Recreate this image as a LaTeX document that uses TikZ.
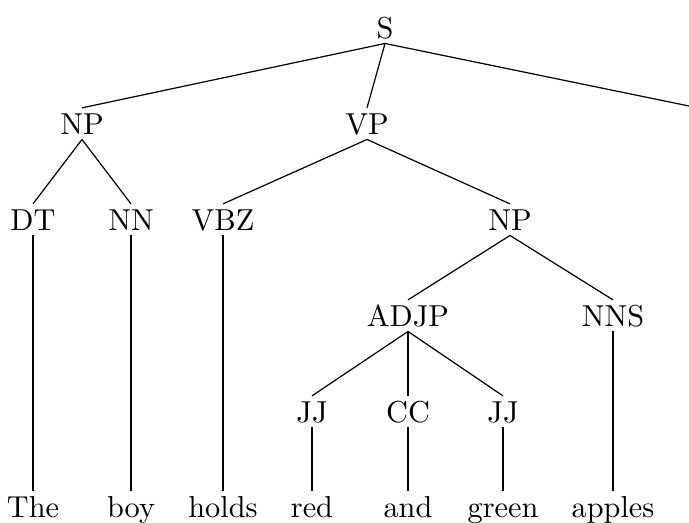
\documentclass[tikz,border=0pt]{standalone}
\usetikzlibrary{positioning}

\tikzset{
  tag/.style={inner sep=1.6pt, text height=6.83pt, text depth=0pt, anchor=base},
}

\begin{document}
\begin{tikzpicture}[x=0.33pt,y=-0.33pt]
        \useasboundingbox (0,0) rectangle (689,522);
        % phrase labels
        \node[tag] (S) at (385,38) {S};
        \node[tag] (NP1) at (82,134) {NP};
        \node[tag] (VP) at (367,134) {VP};
        \coordinate (rest) at (689,106);
        \node[tag] (DT) at (33,230) {DT};
        \node[tag] (NN) at (131,230) {NN};
        \node[tag] (VBZ) at (223,230) {VBZ};
        \node[tag] (NP2) at (510,230) {NP};
        \node[tag] (ADJP) at (408,326) {ADJP};
        \node[tag] (NNS) at (613,326) {NNS};
        \node[tag] (JJ1) at (312,422) {JJ};
        \node[tag] (CC) at (408,422) {CC};
        \node[tag] (JJ2) at (503,422) {JJ};
        % words
        \node[tag] (w_the) at (33,517) {The};
        \node[tag] (w_boy) at (131,517) {boy};
        \node[tag] (w_holds) at (223,517) {holds};
        \node[tag] (w_red) at (312,517) {red};
        \node[tag] (w_and) at (408,517) {and};
        \node[tag] (w_green) at (503,517) {green};
        \node[tag] (w_apples) at (613,517) {apples};
        \path[draw]
                (S.south) edge (NP1.north)
                    edge (VP.north)
                    edge (rest)
                (NP1.south) edge (DT.north)
                    edge (NN.north)
                (VP.south) edge (VBZ.north)
                    edge (NP2.north)
                (NP2.south) edge (ADJP.north)
                    edge (NNS.north)
                (ADJP.south) edge (JJ1.north)
                    edge (CC.north)
                    edge (JJ2.north)
                (DT.south) edge (w_the.north)
                (NN.south) edge (w_boy.north)
                (VBZ.south) edge (w_holds.north)
                (JJ1.south) edge (w_red.north)
                (CC.south) edge (w_and.north)
                (JJ2.south) edge (w_green.north)
                (NNS.south) edge (w_apples.north);
\end{tikzpicture}
\end{document}
